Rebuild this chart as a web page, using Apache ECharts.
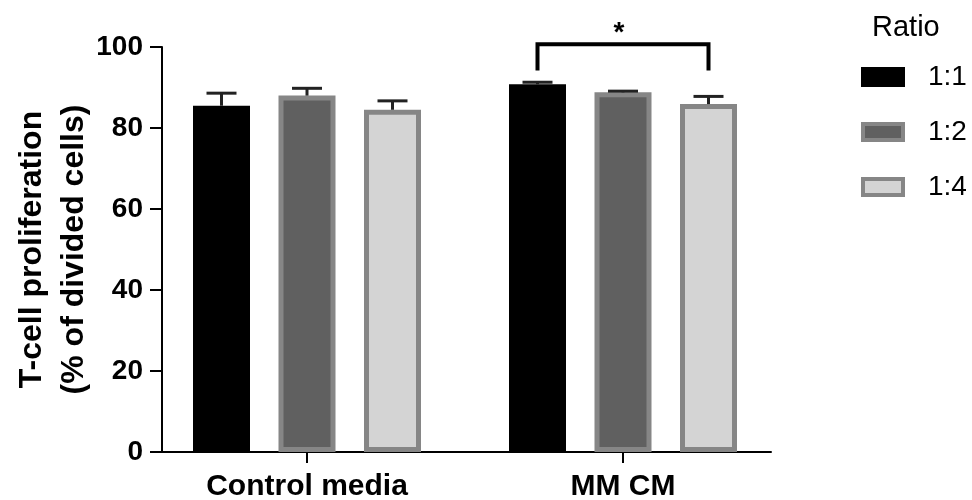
<!DOCTYPE html>
<html>
<head>
<meta charset="utf-8">
<script src="https://cdn.jsdelivr.net/npm/echarts@6/dist/echarts.min.js"></script>
<style>
  html, body { margin: 0; padding: 0; background: #fff; }
  #chart { width: 972px; height: 500px; }
</style>
</head>
<body>
<div id="chart"></div>
<script>
// Groups on the x axis and the cell ratios drawn within each group
const categories = ['Control media', 'MM CM'];
const ratios = ['1:1', '1:2', '1:4'];

// Mean T-cell proliferation (% of divided cells) per ratio, one value per group
const mean11 = [85.5, 90.8];
const mean12 = [88.0, 88.8];
const mean14 = [84.5, 85.9];

// Upper error (SEM) per ratio, one value per group
const sem11 = [3.1, 0.5];
const sem12 = [1.8, 0.3];
const sem14 = [2.2, 1.9];

// Significance bracket: group, first ratio, last ratio, bar level, leg level, label
const sigGroup = [1];
const sigFrom = [0];
const sigTo = [2];
const sigLevel = [100.7];
const sigLegLevel = [94.2];
const sigLabel = ['*'];

// Y axis range
const yMin = 0, yMax = 100, yStep = 20;

// Bar layout shared by bars, error bars and the bracket
const BAR_W = 57;
const BAR_GAP = 0.5;
const STEP = BAR_W * (1 + BAR_GAP);
const FONT = '"Liberation Sans", Arial, sans-serif';

const fills = ['#000000', '#606060', '#d4d4d4'];
const borders = ['#000000', '#868686', '#868686'];
const means = [mean11, mean12, mean14];
const sems = [sem11, sem12, sem14];

const barSeries = ratios.map((r, k) => ({
  name: r,
  type: 'bar',
  xAxisIndex: 0,
  yAxisIndex: 0,
  barWidth: BAR_W,
  barGap: (BAR_GAP * 100) + '%',
  data: means[k],
  itemStyle: { color: fills[k], borderColor: borders[k], borderWidth: 5 },
  emphasis: { disabled: true },
  z: 2
}));

// Upward-only error bars with a cap
const errSeries = ratios.map((r, k) => ({
  type: 'custom',
  xAxisIndex: 0,
  yAxisIndex: 0,
  z: 5,
  silent: true,
  data: categories.map((c, i) => [i, means[k][i], sems[k][i]]),
  encode: { x: 0, y: 1 },
  renderItem: function (params, api) {
    const cat = api.value(0);
    const m = api.value(1);
    const e = api.value(2);
    const base = api.coord([cat, m]);
    const top = api.coord([cat, m + e]);
    const x = base[0] + (k - 1) * STEP;
    const stroke = { stroke: '#222', lineWidth: 3 };
    return {
      type: 'group',
      children: [
        { type: 'line', shape: { x1: x, y1: base[1], x2: x, y2: top[1] }, style: stroke },
        { type: 'line', shape: { x1: x - 15, y1: top[1], x2: x + 15, y2: top[1] }, style: stroke }
      ]
    };
  }
}));

// Significance bracket between two bars of a group
const sigSeries = {
  type: 'custom',
  xAxisIndex: 0,
  yAxisIndex: 0,
  z: 6,
  silent: true,
  data: sigGroup.map((g, i) => [g, sigLevel[i], sigLegLevel[i], sigFrom[i], sigTo[i]]),
  encode: { x: 0, y: 1 },
  renderItem: function (params, api) {
    const g = api.value(0);
    const top = api.coord([g, api.value(1)]);
    const leg = api.coord([g, api.value(2)]);
    const x1 = top[0] + (api.value(3) - 1) * STEP;
    const x2 = top[0] + (api.value(4) - 1) * STEP;
    return {
      type: 'group',
      children: [
        {
          type: 'polyline',
          shape: { points: [[x1, leg[1]], [x1, top[1]], [x2, top[1]], [x2, leg[1]]] },
          style: { stroke: '#000', lineWidth: 4, fill: null, lineJoin: 'miter' }
        },
        {
          type: 'text',
          style: {
            text: sigLabel[params.dataIndex],
            x: (x1 + x2) / 2 - 4,
            y: top[1] - 11,
            align: 'center',
            verticalAlign: 'middle',
            font: 'bold 28px ' + FONT,
            fill: '#000'
          }
        }
      ]
    };
  }
};

const chart = echarts.init(document.getElementById('chart'), null, { renderer: 'canvas' });

chart.setOption({
  animation: false,
  backgroundColor: '#fff',
  title: {
    text: 'Ratio',
    left: 872,
    top: 13,
    padding: 0,
    textStyle: { fontFamily: FONT, fontWeight: 'normal', fontSize: 29, color: '#000' }
  },
  legend: {
    orient: 'vertical',
    left: 861,
    top: 63,
    padding: 0,
    itemGap: 27,
    itemWidth: 40,
    itemHeight: 16,
    selectedMode: false,
    data: ratios.map((r, k) => ({
      name: r,
      icon: 'rect',
      itemStyle: { color: fills[k], borderColor: borders[k], borderWidth: 4 }
    })),
    textStyle: {
      fontFamily: FONT, fontSize: 28, lineHeight: 28, color: '#000',
      padding: [0, 0, 0, 20]
    }
  },
  grid: [
    { left: 149, right: 191, top: 47, bottom: 48, outerBoundsMode: 'none', containLabel: false },
    { left: 162, right: 201, top: 47, bottom: 48, outerBoundsMode: 'none', containLabel: false }
  ],
  xAxis: [
    {
      type: 'category',
      gridIndex: 0,
      data: categories,
      axisLine: { show: false },
      axisTick: { show: true, alignWithLabel: true, length: 11, lineStyle: { color: '#000', width: 2 } },
      axisLabel: {
        margin: 20,
        fontFamily: FONT, fontWeight: 'bold', fontSize: 30, color: '#000'
      },
      splitLine: { show: false }
    },
    {
      type: 'value',
      gridIndex: 1,
      min: 0, max: 1,
      axisLine: { show: true, onZero: false, lineStyle: { color: '#000', width: 2 } },
      axisTick: { show: false },
      axisLabel: { show: false },
      splitLine: { show: false }
    }
  ],
  yAxis: [
    {
      type: 'value',
      gridIndex: 0,
      min: yMin, max: yMax, interval: yStep,
      offset: -13,
      name: 'T-cell proliferation\n(% of divided cells)',
      nameLocation: 'middle',
      nameRotate: 90,
      nameGap: 67,
      nameMoveOverlap: false,
      nameTextStyle: {
        fontFamily: FONT, fontWeight: 'bold', fontSize: 32, lineHeight: 42, color: '#000'
      },
      axisLine: { show: true, lineStyle: { color: '#000', width: 2 } },
      axisTick: { show: true, length: 12, lineStyle: { color: '#000', width: 2 } },
      axisLabel: {
        margin: 19,
        fontFamily: FONT, fontWeight: 'bold', fontSize: 28, color: '#000'
      },
      splitLine: { show: false }
    },
    {
      type: 'value',
      gridIndex: 1,
      min: 0, max: 1,
      show: false
    }
  ],
  series: [...barSeries, ...errSeries, sigSeries]
});
</script>
</body>
</html>
